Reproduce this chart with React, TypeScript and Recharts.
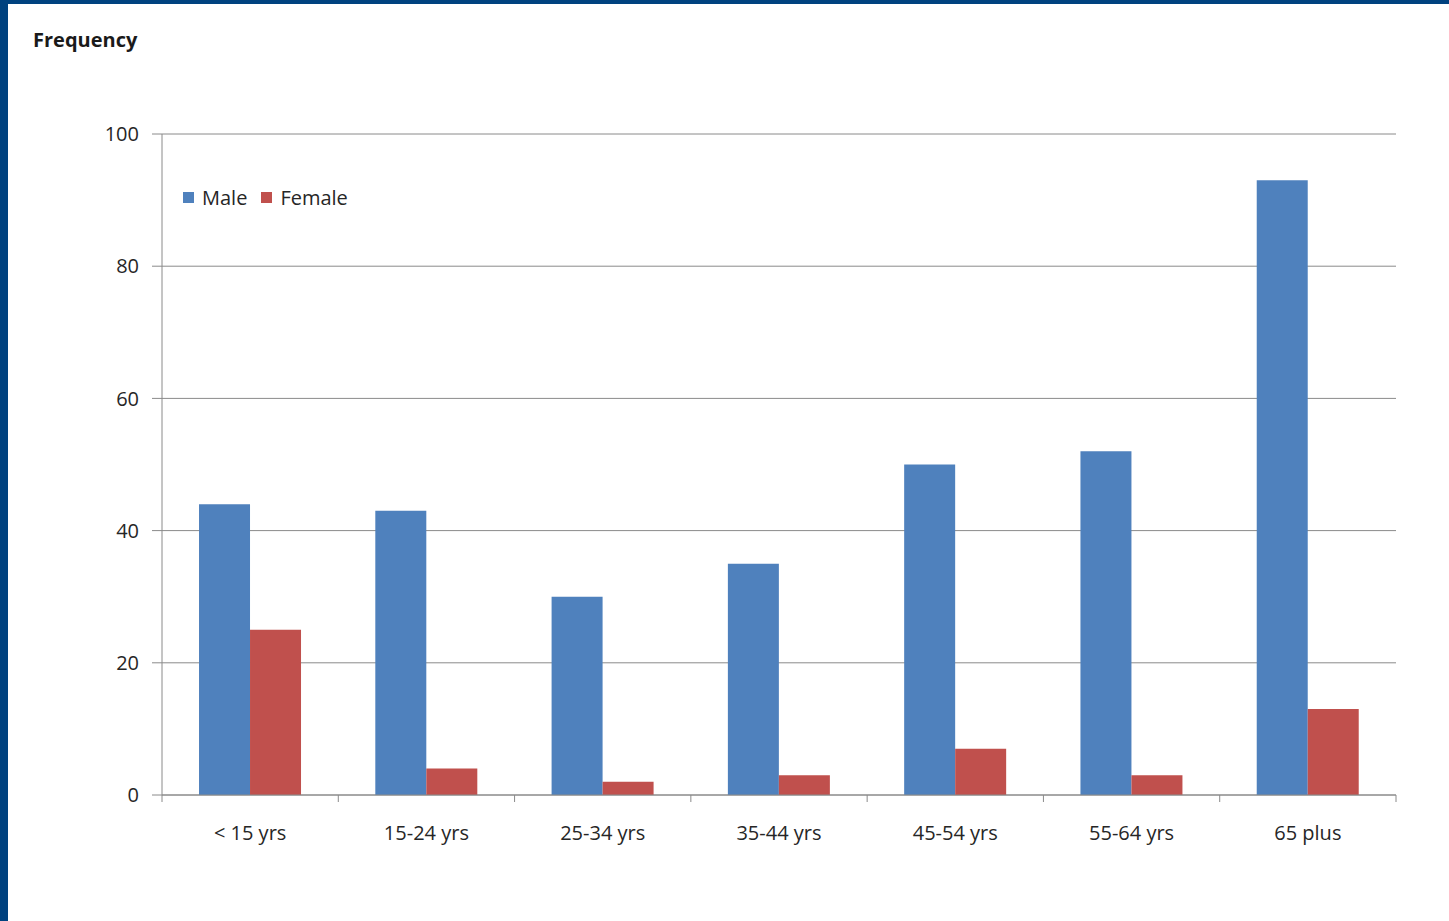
import React from "react";
import {
  BarChart, Bar, XAxis, YAxis, CartesianGrid, Legend,
} from "recharts";

const AGE_GROUPS = ["< 15 yrs", "15-24 yrs", "25-34 yrs", "35-44 yrs", "45-54 yrs", "55-64 yrs", "65 plus"];
const MALE = [44, 43, 30, 35, 50, 52, 93];
const FEMALE = [25, 4, 2, 3, 7, 3, 13];
const Y_TICKS = [0, 20, 40, 60, 80, 100];

const MALE_COLOR = "#4f81bd";
const FEMALE_COLOR = "#c0504d";
const GRID = "#8a8a8a";
const TEXT = "#262626";
const FONT = "'Open Sans', 'DejaVu Sans', sans-serif";
const LABEL_OFFSET = 31; // distance from axis line to label anchor
const EDGE_TICK = 7;

const data = AGE_GROUPS.map((age, i) => ({ age, male: MALE[i], female: FEMALE[i] }));

// label in the middle of the group, tick marks on the group boundaries
function AgeTick(props: any) {
  const { x, y, payload, index, visibleTicksCount } = props;
  const half = payload.offset || 0;
  const axisY = y - LABEL_OFFSET;
  const isLast = index === visibleTicksCount - 1;
  return (
    <g>
      <line x1={x - half} x2={x - half} y1={axisY} y2={axisY + EDGE_TICK} stroke={GRID} />
      {isLast && <line x1={x + half} x2={x + half} y1={axisY} y2={axisY + EDGE_TICK} stroke={GRID} />}
      <text x={x} y={y} dy="0.71em" textAnchor="middle" fill={TEXT} fontSize={20} fontFamily={FONT}>
        {payload.value}
      </text>
    </g>
  );
}

function LegendBox() {
  const items = [
    { label: "Male", color: MALE_COLOR },
    { label: "Female", color: FEMALE_COLOR },
  ];
  return (
    <div style={{ display: "flex", alignItems: "center", gap: 14, fontFamily: FONT, fontSize: 20, color: TEXT }}>
      {items.map((it) => (
        <span key={it.label} style={{ display: "flex", alignItems: "center", gap: 8 }}>
          <span style={{ width: 11, height: 11, background: it.color, display: "inline-block" }} />
          {it.label}
        </span>
      ))}
    </div>
  );
}

export default function App() {
  return (
    <div style={{ position: "absolute", left: 0, top: 0, width: 1449, height: 921, background: "#00427f" }}>
      <div style={{ position: "absolute", left: 8, top: 4, width: 1441, height: 917, background: "#ffffff" }}>
        <div
          style={{
            position: "absolute", left: 25, top: 22, fontFamily: FONT, fontWeight: 700,
            fontSize: 20, color: "#1a1a1a",
          }}
        >
          Frequency
        </div>
        <BarChart
          width={1441}
          height={917}
          data={data}
          margin={{ top: 130, right: 53, bottom: 96, left: 94 }}
          barGap={0}
          barCategoryGap="21%"
        >
          <CartesianGrid vertical={false} stroke={GRID} strokeWidth={1} />
          <XAxis
            dataKey="age"
            height={30}
            axisLine={{ stroke: GRID }}
            tickLine={false}
            tickSize={0}
            tickMargin={LABEL_OFFSET}
            interval={0}
            tick={<AgeTick />}
          />
          <YAxis
            width={60}
            domain={[0, 100]}
            ticks={Y_TICKS}
            tickSize={10}
            tickMargin={13}
            axisLine={{ stroke: GRID }}
            tickLine={{ stroke: GRID }}
            tick={{ fill: TEXT, fontSize: 20, fontFamily: FONT }}
          />
          <Legend
            verticalAlign="middle"
            align="center"
            content={() => <LegendBox />}
            wrapperStyle={{ position: "absolute", left: 175, top: 180, width: "auto" }}
          />
          <Bar dataKey="male" name="Male" fill={MALE_COLOR} isAnimationActive={false} />
          <Bar dataKey="female" name="Female" fill={FEMALE_COLOR} isAnimationActive={false} />
        </BarChart>
      </div>
    </div>
  );
}
